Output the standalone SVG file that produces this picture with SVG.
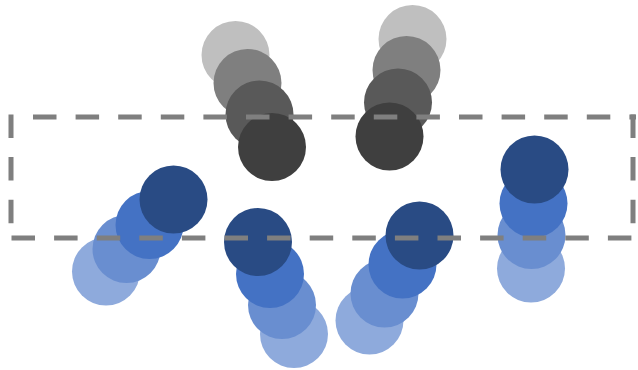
<svg xmlns="http://www.w3.org/2000/svg" width="638" height="370" viewBox="0 0 638 370">
  <style>
    .g1{fill:#bfbfbf}.g2{fill:#7f7f7f}.g3{fill:#595959}.g4{fill:#3f3f3f}
    .b1{fill:#8eaadc}.b2{fill:#698ed0}.b3{fill:#4472c4}.b4{fill:#294b84}
    .dash{fill:none;stroke:#7f7f7f;stroke-width:5;stroke-dasharray:23.5 19.1}
  </style>
  <rect width="638" height="370" fill="#ffffff"/>
  <g id="gray-left">
    <circle class="g1" cx="235.5" cy="55" r="34"/>
    <circle class="g2" cx="247.5" cy="83" r="34"/>
    <circle class="g3" cx="259.5" cy="114.5" r="34"/>
    <circle class="g4" cx="272" cy="147" r="34"/>
  </g>
  <g id="gray-right">
    <circle class="g1" cx="412.5" cy="39" r="34"/>
    <circle class="g2" cx="406.5" cy="70" r="34"/>
    <circle class="g3" cx="398" cy="102.5" r="34"/>
    <circle class="g4" cx="389.5" cy="136.5" r="34"/>
  </g>
  <g id="blue-left">
    <circle class="b1" cx="106" cy="271.5" r="34"/>
    <circle class="b2" cx="126.5" cy="249" r="34"/>
    <circle class="b3" cx="149.5" cy="225" r="34"/>
    <circle class="b4" cx="173.5" cy="199.5" r="34"/>
  </g>
  <g id="blue-middle">
    <circle class="b1" cx="294" cy="334" r="34"/>
    <circle class="b2" cx="282" cy="305" r="34"/>
    <circle class="b3" cx="270" cy="274" r="34"/>
    <circle class="b4" cx="258" cy="242" r="34"/>
  </g>
  <g id="blue-center-right">
    <circle class="b1" cx="369.5" cy="320.5" r="34"/>
    <circle class="b2" cx="384.5" cy="293.5" r="34"/>
    <circle class="b3" cx="402.5" cy="264.5" r="34"/>
    <circle class="b4" cx="419.5" cy="235.5" r="34"/>
  </g>
  <g id="blue-right">
    <circle class="b1" cx="531" cy="268.5" r="34"/>
    <circle class="b2" cx="531.5" cy="235" r="34"/>
    <circle class="b3" cx="533.5" cy="203.5" r="34"/>
    <circle class="b4" cx="534.5" cy="169.5" r="34"/>
  </g>
  <g id="dashed-frame">
    <path class="dash" d="M33 117 H636"/>
    <path class="dash" d="M11.5 238 H636"/>
    <path class="dash" d="M11 114.5 V240.5"/>
    <path class="dash" d="M633 114.5 V240.5"/>
  </g>
</svg>
